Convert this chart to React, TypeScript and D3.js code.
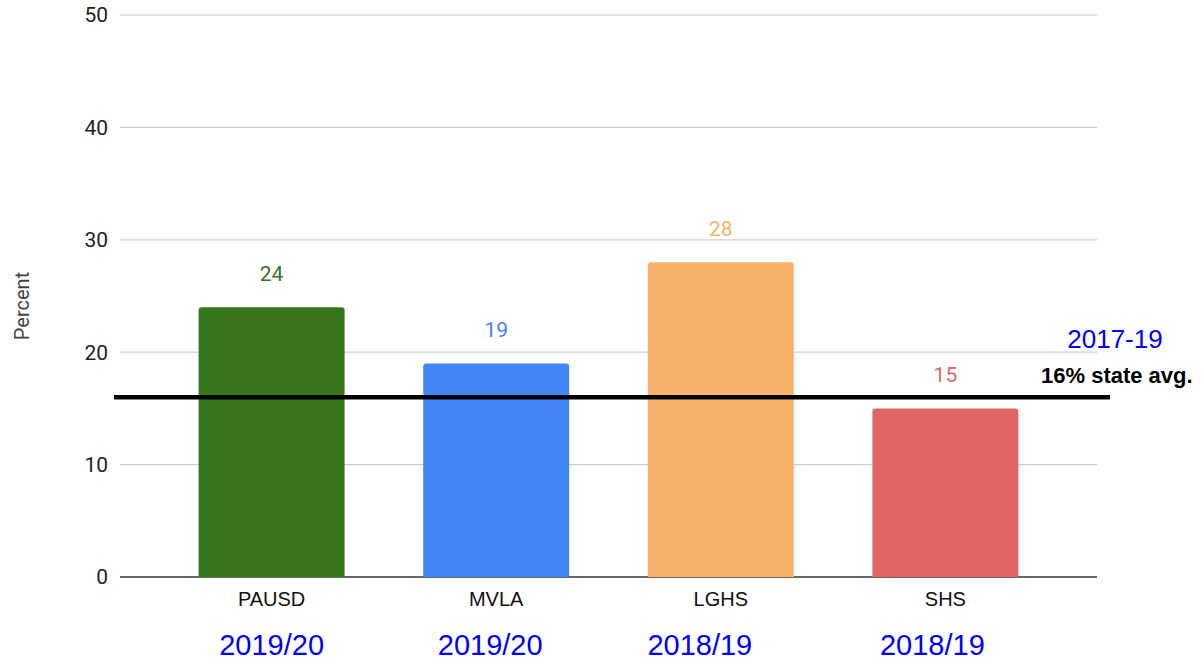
import * as React from 'react';
import {scaleBand, scaleLinear} from 'd3';

const schools = ['PAUSD', 'MVLA', 'LGHS', 'SHS'];
const percents = [24, 19, 28, 15];
const barColors = ['#38761d', '#4285f4', '#f6b26b', '#e06666'];
const years = ['2019/20', '2019/20', '2018/19', '2018/19'];
// the year captions were placed by hand, a little left of each bar's centre
const yearShift = [0, -6, -21, -13];
const yTicks = [0, 10, 20, 30, 40, 50];
const stateAvg = 16;
const stateAvgLabel = '16% state avg.';
const stateAvgYears = '2017-19';

const W = 1203;
const H = 660;
const margins = {left: 120, right: 106, top: 15, bottom: 83};

export default function App() {
  const plotRight = W - margins.right;
  const plotBottom = H - margins.bottom;

  const x = scaleBand<string>()
    .domain(schools)
    .range([margins.left, plotRight])
    .paddingInner(0.35)
    .paddingOuter(0.35);
  const y = scaleLinear().domain([0, 50]).range([plotBottom, margins.top]);

  const sans = 'Roboto, "Liberation Sans", Arial, sans-serif';
  const arial = '"Liberation Sans", Arial, sans-serif';
  const avgY = y(stateAvg);

  return <svg width={W} height={H} style={{position: 'absolute', left: 0, top: 0, background: '#fff'}}>
    {/* grid + y ticks */}
    {yTicks.map((t) => <g key={t}>
      <line x1={margins.left} x2={plotRight} y1={y(t)} y2={y(t)}
        stroke={t === 0 ? '#333' : '#ccc'} strokeWidth={t === 0 ? 1.3 : 1.2} />
      <text x={108} y={y(t)} dy="0.35em" textAnchor="end" fontFamily={sans}
        fontSize={21} fill="#222">{t}</text>
    </g>)}

    <text transform={`translate(29, ${(y(20) + y(30)) / 2 + 10}) rotate(-90)`} textAnchor="middle"
      fontFamily={sans} fontSize={20} fill="#444">Percent</text>

    {/* bars */}
    {schools.map((s, i) => {
      const x0 = x(s) as number;
      const top = y(percents[i]);
      const cx = x0 + x.bandwidth() / 2;
      return <g key={s}>
        <path d={`M${x0},${plotBottom} V${top + 3} Q${x0},${top} ${x0 + 3},${top}
          H${x0 + x.bandwidth() - 3} Q${x0 + x.bandwidth()},${top} ${x0 + x.bandwidth()},${top + 3}
          V${plotBottom} Z`} fill={barColors[i]} />
        <text x={cx} y={top - 26} textAnchor="middle" fontFamily={sans} fontSize={21}
          fill={barColors[i]}>{percents[i]}</text>
        <text x={cx} y={606} textAnchor="middle" fontFamily={arial} fontSize={20}
          fill="#111">{s}</text>
        <text x={cx + yearShift[i]} y={655} textAnchor="middle" fontFamily={arial} fontSize={29}
          fill="#0000ff">{years[i]}</text>
      </g>;
    })}

    <line x1={114} x2={1110} y1={avgY} y2={avgY} stroke="#000" strokeWidth={4.5} />
    <text x={1115} y={348} textAnchor="middle" fontFamily={arial} fontSize={26}
      fill="#0000ff">{stateAvgYears}</text>
    <text x={1041} y={383} fontFamily={arial} fontSize={22} fontWeight="bold"
      fill="#000">{stateAvgLabel}</text>
  </svg>;
}
